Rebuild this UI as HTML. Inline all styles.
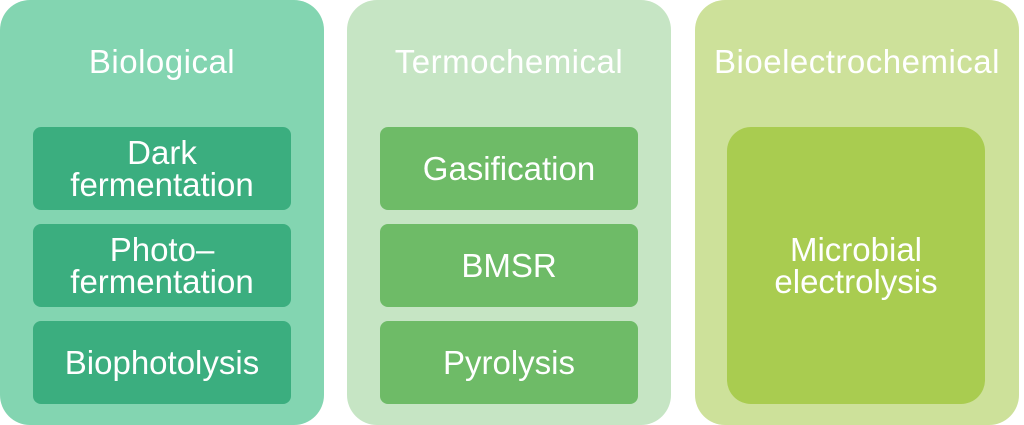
<!DOCTYPE html><html><head><style>
body{margin:0;width:1024px;height:425px;background:#fff;position:relative;font-family:"Liberation Sans",sans-serif;overflow:hidden}
.p{position:absolute;top:0;height:425px;width:324px;border-radius:30px}
.t{position:absolute;top:42px;left:0;width:100%;text-align:center;color:#fff;font-size:33px;letter-spacing:0.5px;line-height:40px}
.b{position:absolute;left:33px;width:258px;height:83px;border-radius:8px;color:#fff;font-size:33px;display:flex;align-items:center;justify-content:center;text-align:center;line-height:32px}
</style></head><body>
<div class="p" style="left:0;background:#83d5b1">
<div class="t">Biological</div>
<div class="b" style="top:127px;background:#3bae7f">Dark<br>fermentation</div>
<div class="b" style="top:224px;background:#3bae7f">Photo–<br>fermentation</div>
<div class="b" style="top:321px;background:#3bae7f">Biophotolysis</div>
</div>
<div class="p" style="left:347px;background:#c6e5c4">
<div class="t">Termochemical</div>
<div class="b" style="top:127px;background:#6ebb67">Gasification</div>
<div class="b" style="top:224px;background:#6ebb67">BMSR</div>
<div class="b" style="top:321px;background:#6ebb67">Pyrolysis</div>
</div>
<div class="p" style="left:695px;background:#cde19a">
<div class="t">Bioelectrochemical</div>
<div class="b" style="top:127px;height:277px;border-radius:24px;background:#a9cc50;left:32px">Microbial<br>electrolysis</div>
</div>
</body></html>
